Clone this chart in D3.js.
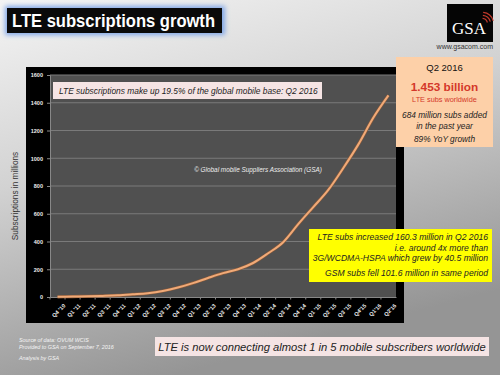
<!DOCTYPE html>
<html>
<head>
<meta charset="utf-8">
<script src="https://cdn.jsdelivr.net/npm/d3@7"></script>
<style>
  html, body { margin: 0; padding: 0; }
  svg { display: block; font-family: "Liberation Sans", Arial, sans-serif; }
</style>
</head>
<body>
<svg id="chart" width="500" height="375"></svg>
<script>
// LTE subscriptions, millions, per quarter
const quarters = ["Q4 '10", "Q1 '11", "Q2 '11", "Q3 '11", "Q4 '11", "Q1 '12", "Q2 '12", "Q3 '12",
  "Q4 '12", "Q1 '13", "Q2 '13", "Q3 '13", "Q4 '13", "Q1 '14", "Q2 '14", "Q3 '14", "Q4 '14",
  "Q1 '15", "Q2 '15", "Q3 '15", "Q4'15", "Q1'16", "Q2'16"];
const lteSubs = [1, 3, 5, 8, 12, 19, 27, 43, 68, 100, 137, 172, 200, 245, 315, 395, 525,
  648, 772, 930, 1100, 1293, 1453];
const yTicks = [0, 200, 400, 600, 800, 1000, 1200, 1400, 1600];

const svg = d3.select("#chart");
const W = 500, H = 375;

const defs = svg.append("defs");
const bg = defs.append("linearGradient").attr("id", "bg")
  .attr("x1", 0).attr("y1", 0).attr("x2", 0.35).attr("y2", 1);
bg.append("stop").attr("offset", "0%").attr("stop-color", "#f4f4f4");
bg.append("stop").attr("offset", "45%").attr("stop-color", "#d2d2d2");
bg.append("stop").attr("offset", "100%").attr("stop-color", "#959595");

const glow = defs.append("filter").attr("id", "glow")
  .attr("x", "-10%").attr("y", "-40%").attr("width", "120%").attr("height", "180%");
glow.append("feGaussianBlur").attr("stdDeviation", 2.5);

svg.append("rect").attr("width", W).attr("height", H).attr("fill", "url(#bg)");

// title
svg.append("rect").attr("x", 5).attr("y", 6).attr("width", 220).attr("height", 29)
  .attr("fill", "#7fa6e8").attr("filter", "url(#glow)");
svg.append("rect").attr("x", 7).attr("y", 8).attr("width", 215).attr("height", 25).attr("fill", "#0a0a0a");
svg.append("text").attr("x", 12).attr("y", 27).attr("fill", "#fff")
  .attr("font-size", 18.5).attr("font-weight", "bold")
  .attr("textLength", 203).attr("lengthAdjust", "spacingAndGlyphs")
  .text("LTE subscriptions growth");

// GSA logo
const logo = svg.append("g");
logo.append("rect").attr("x", 447).attr("y", 4).attr("width", 46).attr("height", 38).attr("fill", "#050505");
[5, 8, 11].forEach(r => {
  logo.append("path")
    .attr("d", d3.arc()({ innerRadius: r, outerRadius: r + 1.2, startAngle: 0.1, endAngle: 1.3 }))
    .attr("transform", "translate(482,24)").attr("fill", "#c0392b");
});
logo.append("text").attr("x", 469).attr("y", 34).attr("text-anchor", "middle")
  .attr("font-family", "'Liberation Serif', 'DejaVu Serif', serif").attr("font-size", 17)
  .attr("fill", "#fff").text("GSA");
svg.append("text").attr("x", 493).attr("y", 49).attr("text-anchor", "end")
  .attr("font-size", 7).attr("fill", "#333").text("www.gsacom.com");

// chart panel
svg.append("rect").attr("x", 26).attr("y", 67).attr("width", 378).attr("height", 256).attr("fill", "#000");

const plot = { left: 50, right: 396, top: 75, bottom: 297 };
svg.append("rect").attr("x", plot.left).attr("y", plot.top)
  .attr("width", plot.right - plot.left).attr("height", plot.bottom - plot.top).attr("fill", "#505050");

const x = d3.scalePoint().domain(quarters).range([plot.left, plot.right]).padding(0.5);
const y = d3.scaleLinear().domain([0, 1600]).range([plot.bottom, plot.top]);

svg.append("g").selectAll("line").data(yTicks.slice(1)).join("line")
  .attr("x1", plot.left).attr("x2", plot.right)
  .attr("y1", d => y(d)).attr("y2", d => y(d))
  .attr("stroke", "#7a7a7a").attr("stroke-width", 1);

const yAxis = svg.append("g").attr("transform", `translate(${plot.left},0)`)
  .call(d3.axisLeft(y).tickValues(yTicks).tickFormat(d3.format("d")).tickSize(3).tickPadding(4));
yAxis.select(".domain").attr("stroke", "#888");
yAxis.selectAll(".tick line").attr("stroke", "#888");
yAxis.selectAll("text").attr("fill", "#eee").attr("font-size", 5.5).attr("font-weight", "bold");

const xBand = d3.scaleBand().domain(quarters).range([plot.left, plot.right]);
const xAxis = svg.append("g").attr("transform", `translate(0,${plot.bottom})`)
  .call(d3.axisBottom(x).tickSize(0).tickPadding(6));
xAxis.select(".domain").attr("stroke", "#888");
xAxis.selectAll(".tick text").attr("fill", "#eee").attr("font-size", 5.5).attr("font-weight", "bold")
  .attr("text-anchor", "end").attr("dx", "-1").attr("dy", "6")
  .attr("transform", "rotate(-45)");
svg.append("g").selectAll("line").data(quarters).join("line")
  .attr("x1", d => xBand(d)).attr("x2", d => xBand(d))
  .attr("y1", plot.bottom).attr("y2", plot.bottom + 2.5).attr("stroke", "#888");

const line = d3.line().x((d, i) => x(quarters[i])).y(d => y(d)).curve(d3.curveMonotoneX);
svg.append("path").datum(lteSubs).attr("d", line)
  .attr("fill", "none").attr("stroke", "#8a5a3a").attr("stroke-width", 3.2);
svg.append("path").datum(lteSubs).attr("d", line)
  .attr("fill", "none").attr("stroke", "#f0aa78").attr("stroke-width", 2);

// y axis title
svg.append("text").attr("transform", "translate(18,196) rotate(-90)")
  .attr("text-anchor", "middle").attr("font-size", 8.3).attr("fill", "#333")
  .text("Subscriptions in millions");

// pink note at top of plot
svg.append("rect").attr("x", 53).attr("y", 82).attr("width", 269).attr("height", 17).attr("fill", "#f5e4e4");
svg.append("text").attr("x", 59).attr("y", 93.5).attr("font-size", 8.4).attr("font-style", "italic")
  .attr("fill", "#222").text("LTE subscriptions make up 19.5% of the global mobile base: Q2 2016");

svg.append("text").attr("x", 258).attr("y", 172).attr("text-anchor", "middle")
  .attr("font-size", 6.4).attr("font-style", "italic").attr("fill", "#eee")
  .text("© Global mobile Suppliers Association (GSA)");

// peach box
svg.append("rect").attr("x", 396).attr("y", 57).attr("width", 97).attr("height", 90).attr("fill", "#fdd0a8");
const peach = [
  { t: "Q2 2016", y: 71, s: 9.5, c: "#111", w: "normal", i: "normal" },
  { t: "1.453 billion", y: 91, s: 11.8, c: "#d4382a", w: "bold", i: "normal" },
  { t: "LTE subs worldwide", y: 102, s: 7.3, c: "#d4382a", w: "normal", i: "normal" },
  { t: "684 million subs added", y: 118, s: 8.3, c: "#222", w: "normal", i: "italic" },
  { t: "in the past year", y: 128.5, s: 8.3, c: "#222", w: "normal", i: "italic" },
  { t: "89% YoY growth", y: 142, s: 8.3, c: "#222", w: "normal", i: "italic" }
];
svg.append("g").selectAll("text").data(peach).join("text")
  .attr("x", 444.5).attr("y", d => d.y).attr("text-anchor", "middle")
  .attr("font-size", d => d.s).attr("fill", d => d.c)
  .attr("font-weight", d => d.w).attr("font-style", d => d.i).text(d => d.t);

// yellow box
svg.append("rect").attr("x", 309).attr("y", 229).attr("width", 183).attr("height", 53).attr("fill", "#ffff00");
const yellow = [
  { t: "LTE subs increased 160.3 million in Q2 2016", y: 240 },
  { t: "i.e. around 4x more than", y: 250.5 },
  { t: "3G/WCDMA-HSPA which grew by 40.5 million", y: 261 },
  { t: "GSM subs fell 101.6 million in same period", y: 276 }
];
svg.append("g").selectAll("text").data(yellow).join("text")
  .attr("x", 488).attr("y", d => d.y).attr("text-anchor", "end")
  .attr("font-size", 8.6).attr("font-style", "italic").attr("fill", "#222").text(d => d.t);

// sources
const src = [
  { t: "Source of data: OVUM WCIS", y: 342 },
  { t: "Provided to GSA on September 7, 2016", y: 348.5 },
  { t: "Analysis by GSA", y: 360 }
];
svg.append("g").selectAll("text").data(src).join("text")
  .attr("x", 19).attr("y", d => d.y).attr("font-size", 5.4).attr("font-style", "italic")
  .attr("fill", "#f4f4f4").text(d => d.t);

// bottom message
svg.append("rect").attr("x", 155).attr("y", 337).attr("width", 334).attr("height", 19).attr("fill", "#f5e4e4");
svg.append("text").attr("x", 322).attr("y", 350.5).attr("text-anchor", "middle")
  .attr("font-size", 11.2).attr("font-style", "italic").attr("fill", "#222")
  .text("LTE is now connecting almost 1 in 5 mobile subscribers worldwide");
</script>
</body>
</html>
